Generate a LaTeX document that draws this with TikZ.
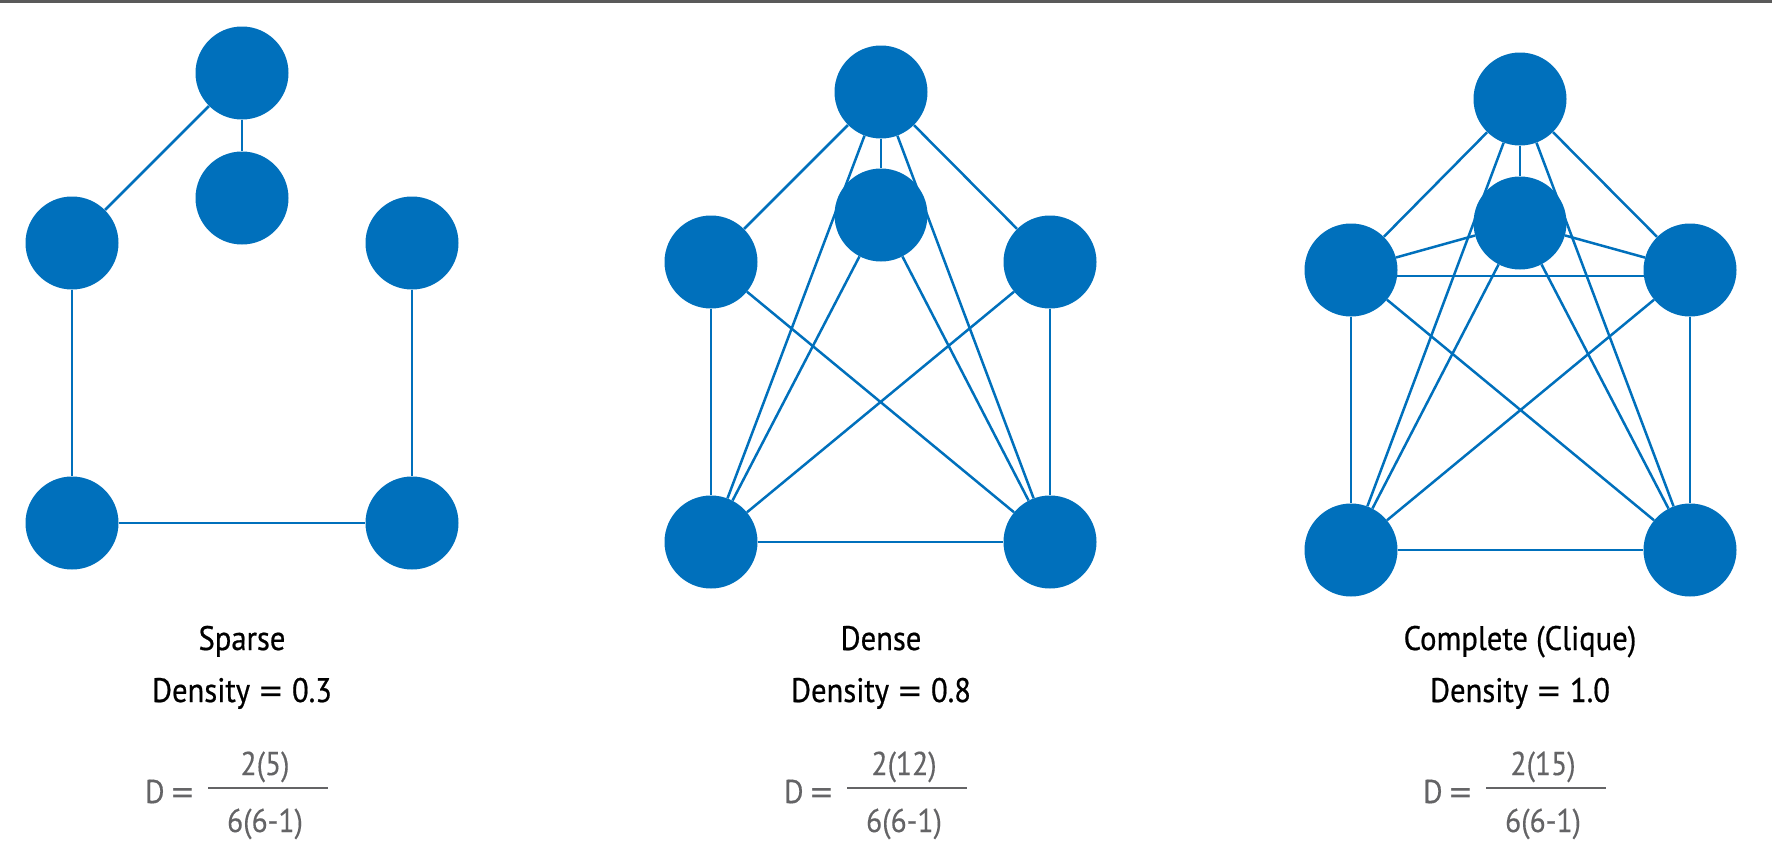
\documentclass[tikz,border=0pt]{standalone}
\usepackage{fontspec}
\setmainfont{PT Sans}[FakeStretch=0.92]
\newfontfamily\capfont{PT Sans}[FakeStretch=0.9, FakeBold=0.6]
\newfontfamily\formfont{PT Sans}[FakeStretch=0.9, FakeBold=0.3]
\newfontfamily\eqfont{DejaVu Sans}[FakeStretch=0.9]
\newcommand\eqsign{{\eqfont =}}
\usetikzlibrary{backgrounds}
\definecolor{nodeblue}{RGB}{0,112,188}
\definecolor{formulagray}{RGB}{100,100,102}
\definecolor{rulegray}{RGB}{90,90,90}

\begin{document}
\begin{tikzpicture}[x=1pt,y=-1pt,
  vertex/.style={circle,fill=nodeblue,minimum size=93pt,inner sep=0pt},
  edge/.style={draw=nodeblue,line width=2.5pt},
  caption/.style={anchor=base,font=\capfont\fontsize{34}{38}\selectfont,text=black,inner sep=0pt},
  formula/.style={anchor=base,font=\formfont\fontsize{33}{38}\selectfont,text=formulagray,inner sep=0pt},
  fracbar/.style={draw=formulagray,line width=2pt}]
\useasboundingbox (0,0) rectangle (1772,865);

% thin rule along the top edge
\draw[rulegray,line width=2.5pt] (0,1.5) -- (1772,1.5);

% ---- sparse graph ----
\node[vertex] (s1) at (242,73) {};
\node[vertex] (s2) at (242,198) {};
\node[vertex] (s3) at (72,243) {};
\node[vertex] (s4) at (412,243) {};
\node[vertex] (s5) at (72,523) {};
\node[vertex] (s6) at (412,523) {};

% ---- dense graph ----
\node[vertex] (d1) at (881,92) {};
\node[vertex] (d2) at (881,215) {};
\node[vertex] (d3) at (711,262) {};
\node[vertex] (d4) at (1050,262) {};
\node[vertex] (d5) at (711,542) {};
\node[vertex] (d6) at (1050,542) {};

% ---- complete graph ----
\node[vertex] (c1) at (1520,99) {};
\node[vertex] (c2) at (1520,223) {};
\node[vertex] (c3) at (1351,270) {};
\node[vertex] (c4) at (1690,270) {};
\node[vertex] (c5) at (1351,550) {};
\node[vertex] (c6) at (1690,550) {};

\begin{scope}[on background layer]
  \foreach \a/\b in {s1/s3, s1/s2, s3/s5, s4/s6, s5/s6}
    \draw[edge] (\a) -- (\b);
  \foreach \a/\b in {d1/d3, d1/d2, d1/d4, d1/d5, d1/d6, d2/d5, d2/d6,
                     d3/d5, d3/d6, d4/d5, d4/d6, d5/d6}
    \draw[edge] (\a) -- (\b);
  \foreach \a/\b in {c1/c2, c1/c3, c1/c4, c1/c5, c1/c6, c2/c3, c2/c4,
                     c2/c5, c2/c6, c3/c5, c3/c6, c4/c5, c4/c6, c5/c6}
    \draw[edge] (\a) -- (\b);
  % the side-to-side edge runs a little below the centres
  \draw[edge] ([yshift=-6pt]c3.center) -- ([yshift=-6pt]c4.center);
\end{scope}

% ---- captions and density formulas ----
\foreach \cx/\name/\title/\dens/\edges in
    {242/sp/Sparse/0.3/5, 881/de/Dense/0.8/12, 1520/co/{Complete (Clique)}/1.0/15} {
  \node[caption] (title-\name) at (\cx,650) {\title};
  \node[caption] (dens-\name) at (\cx,702) {Density \eqsign{} \dens};
  \node[formula,anchor=base west] (lhs-\name) at (\cx-97,803) {D\,\eqsign};
  \node[formula] (num-\name) at (\cx+23,775) {2(\edges)};
  \node[formula] (den-\name) at (\cx+23,832) {6(6-1)};
  \draw[fracbar] (\cx-34,788) -- (\cx+86,788);
}
\end{tikzpicture}
\end{document}
